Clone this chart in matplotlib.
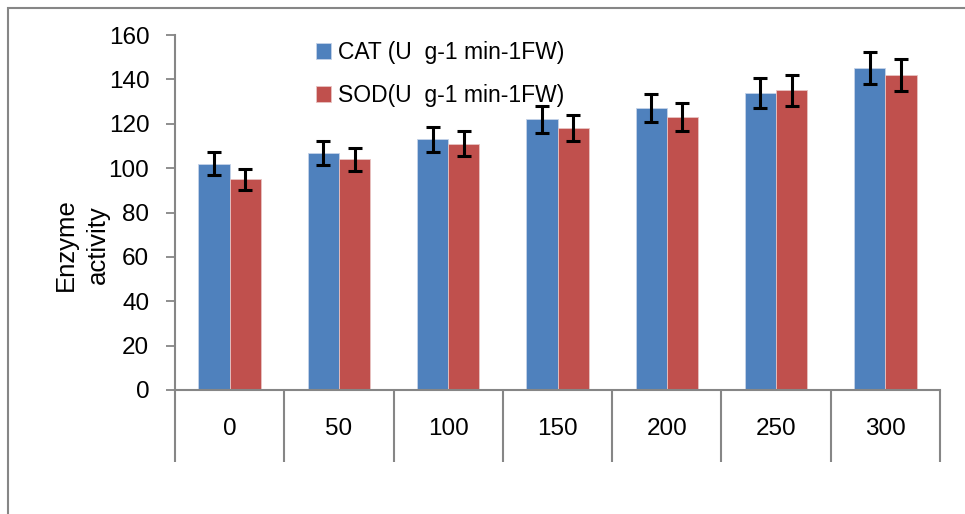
import matplotlib
matplotlib.use('Agg')
import matplotlib.pyplot as plt
from matplotlib.patches import Rectangle
import numpy as np

plt.rcParams['font.family'] = ['Liberation Sans', 'DejaVu Sans']

# data
doses = ['0', '50', '100', '150', '200', '250', '300']
cat = [102, 107, 113, 122, 127, 134, 145]
sod = [95, 104, 111, 118, 123, 135, 142]
cat_err = [5.1, 5.4, 5.7, 6.1, 6.4, 6.7, 7.3]
sod_err = [4.8, 5.2, 5.6, 5.9, 6.2, 6.8, 7.1]
cat_label = 'CAT (U  g-1 min-1FW)'
sod_label = 'SOD(U  g-1 min-1FW)'

W, H = 965, 514
fig = plt.figure(figsize=(W / 100, H / 100), dpi=100)
grey = '#868686'

# outer chart border (runs off the right and bottom edge)
fig.add_artist(Rectangle((8 / W, -20 / H), 1.2, (H - 8 + 20) / H, transform=fig.transFigure,
                         fill=False, edgecolor=grey, lw=1.5))

ax = fig.add_axes([175 / W, (H - 390) / H, 765 / W, 355 / H])

x = np.arange(len(doses))
bw = 0.285
err_kw = dict(ecolor='black', elinewidth=2.2, capsize=5, capthick=2.2)
ax.bar(x - bw / 2, cat, bw, yerr=cat_err, color='#4F81BD', edgecolor='#c5d3e8', linewidth=0.6,
       label=cat_label, error_kw=err_kw)
ax.bar(x + bw / 2, sod, bw, yerr=sod_err, color='#C0504D', edgecolor='#e8c3c2', linewidth=0.6,
       label=sod_label, error_kw=err_kw)

ax.set_xlim(-0.5, len(doses) - 0.5)
ax.set_ylim(0, 160)
ax.set_yticks(range(0, 161, 20))
ax.set_xticks(x)
ax.set_xticklabels(doses)
ax.set_xticks(np.arange(-0.5, len(doses), 1), minor=True)

for s in ['top', 'right']:
    ax.spines[s].set_visible(False)
for s in ['left', 'bottom']:
    ax.spines[s].set_color(grey)
    ax.spines[s].set_linewidth(1.5)

ax.tick_params(axis='y', direction='out', length=6.5, width=1.3, color=grey, pad=12, labelsize=17.5)
ax.tick_params(axis='x', which='major', length=0, pad=20, labelsize=17.5)
ax.tick_params(axis='x', which='minor', direction='out', length=52, width=1.5, color=grey)

fig.text(82 / W, 1 - 245 / H, 'Enzyme\nactivity', rotation=90, ha='center', va='center',
         multialignment='center', fontsize=18.5, linespacing=1.4)

ax.legend(loc='upper left', bbox_to_anchor=(316 / W, 1 - 41 / H), bbox_transform=fig.transFigure,
          frameon=False, fontsize=16.5, handlelength=0.65, handleheight=0.65,
          handletextpad=0.3, labelspacing=0.88, borderpad=0, borderaxespad=0)

fig.savefig('out.png', dpi=100)
